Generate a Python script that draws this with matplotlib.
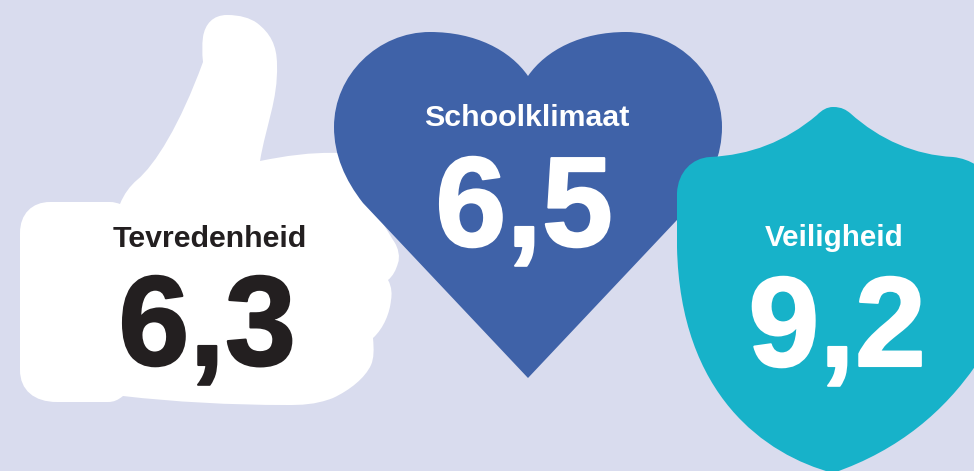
import matplotlib
matplotlib.use("Agg")
import matplotlib.pyplot as plt
import matplotlib.patheffects as pe
from matplotlib.patches import PathPatch
from matplotlib.path import Path

labels = ["Tevredenheid", "Schoolklimaat", "Veiligheid"]
scores = ["6,3", "6,5", "9,2"]

M, L, C, Z = Path.MOVETO, Path.LINETO, Path.CURVE4, Path.CLOSEPOLY


def shape(start, *segs):
    # segs are either (x, y) lines or 3 point beziers
    verts = [start]
    codes = [M]
    for s in segs:
        if len(s) == 2:
            verts.append(s)
            codes.append(L)
        else:
            verts += [(s[0], s[1]), (s[2], s[3]), (s[4], s[5])]
            codes += [C, C, C]
    verts.append(start)
    codes.append(Z)
    return Path(verts, codes)


thumb = shape(
    (50, 202),
    (110, 202),
    (114, 202, 117, 203, 120, 204),
    (124, 194, 130, 186, 137, 180),
    (155, 165, 180, 125, 203, 62),
    (202, 52, 202, 46, 203, 37),
    (205, 24, 213, 15, 227, 15),
    (240, 15, 250, 18, 257, 23),
    (270, 33, 277, 45, 277, 65),
    (278, 100, 266, 125, 260, 161),
    (285, 156, 310, 152, 340, 153),
    (393, 240),
    (399, 248, 400, 258, 398, 263),
    (396, 270, 393, 276, 388, 280),
    (392, 287, 392, 295, 391, 300),
    (390, 312, 384, 328, 373, 338),
    (374, 350, 374, 358, 371, 365),
    (365, 378, 350, 390, 333, 398),
    (315, 405, 300, 405, 287, 405),
    (230, 405, 175, 402, 123, 396),
    (118, 400, 114, 402, 108, 402),
    (57, 402),
    (34, 402, 20, 390, 20, 370),
    (20, 233),
    (20, 214, 32, 202, 50, 202),
)
heart = shape(
    (528, 378),
    (363, 203),
    (345, 180, 334, 155, 334, 127),
    (334, 75, 378, 32, 430, 32),
    (475, 32, 510, 50, 528, 76),
    (546, 50, 581, 32, 626, 32),
    (678, 32, 722, 75, 722, 127),
    (722, 155, 711, 180, 693, 203),
)
shield = shape(
    (833, 107),
    (842, 107, 846, 110, 850, 113),
    (880, 140, 915, 155, 953, 157),
    (962, 158, 970, 161, 976, 165),
    (976, 365),
    (945, 410, 900, 450, 833, 473),
    (765, 455, 680, 395, 677, 247),
    (677, 193),
    (678, 172, 692, 158, 710, 157),
    (750, 155, 785, 142, 817, 115),
    (822, 110, 827, 107, 833, 107),
)

fig = plt.figure(figsize=(9.74, 4.71), dpi=100, facecolor="#d9dcee")
ax = fig.add_axes([0, 0, 1, 1])
ax.set_xlim(0, 974)
ax.set_ylim(471, 0)
ax.axis("off")

ax.add_patch(PathPatch(thumb, fc="white", ec="none", zorder=1))
ax.add_patch(PathPatch(heart, fc="#3f62a8", ec="none", zorder=2))
ax.add_patch(PathPatch(shield, fc="#17b2c9", ec="none", zorder=3))

font = "Liberation Sans"
label_pos = [(209.5, 247), (526.5, 126), (834, 246)]
label_size = [21.8, 21.9, 21.3]
score_pos = [(207, 365), (524, 246), (837, 366)]
colors = ["#231f20", "white", "white"]

for i in range(3):
    ax.text(label_pos[i][0], label_pos[i][1], labels[i], color=colors[i], fontsize=label_size[i],
            fontweight="bold", family=font, ha="center", va="baseline", zorder=4)
    t = ax.text(score_pos[i][0], score_pos[i][1], scores[i], color=colors[i], fontsize=92,
                fontweight="bold", family=font, ha="center", va="baseline", zorder=4)
    # the reference digits are a bit heavier than the bold face
    t.set_path_effects([pe.withStroke(linewidth=1.5, foreground=colors[i])])

fig.savefig("out.png", dpi=100, facecolor=fig.get_facecolor())
